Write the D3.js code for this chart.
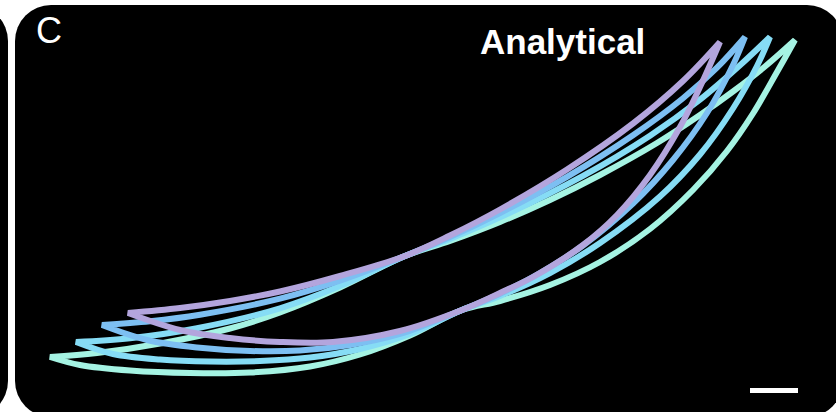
<!DOCTYPE html>
<html><head><meta charset="utf-8">
<script src="https://cdn.jsdelivr.net/npm/d3@7"></script>
<style>html,body{margin:0;padding:0;background:#fff;}svg{display:block;}</style>
</head><body>
<svg id="chart" width="836" height="412"></svg>
<script>
// Series: strain (x, %) and stress (y, %) of four hysteresis loops
const loopNames = ["loop1", "loop2", "loop3", "loop4"];
const loopColors = ["#b3a5dd", "#7dbff2", "#86dcf5", "#a5f3e3"];

const loop1UpperX = [12.25, 18.75, 25, 31.25, 38.75, 46.875, 52.5, 58.75, 67.125, 75.375, 81.625, 86.25];
const loop1UpperY = [16.75, 18, 19.75, 22.125, 26, 31, 36.125, 42.625, 52.625, 64.125, 74.75, 84.5];
const loop1LowerX = [12.25, 18.75, 25, 31.25, 37.875, 46.25, 54, 58.75, 62.875, 69.125, 73.375, 77.5, 81.25, 83.75, 86.25];
const loop1LowerY = [16.75, 12.5, 10.5, 9.5, 9.5, 12.25, 17.5, 21.75, 25.75, 33.75, 41.25, 51.25, 63.25, 73.25, 84.5];

const loop2UpperX = [9, 15, 21.25, 31.25, 38.75, 46.875, 52.5, 58.75, 67.125, 75.375, 81.625, 85.875, 89.375];
const loop2UpperY = [13.75, 14.7, 16.325, 20.325, 24.825, 31, 35.725, 41.725, 50.775, 61.175, 70.425, 78.075, 85.75];
const loop2LowerX = [9, 14.625, 20.875, 27.5, 33.75, 40, 46.25, 54, 58.75, 63.75, 69.125, 75.375, 80.375, 84.625, 87.875, 89.375];
const loop2LowerY = [13.75, 10, 8.125, 7.25, 7.375, 8.75, 11.5, 17.5, 21.575, 26.75, 33.625, 44.125, 55, 66.75, 78.75, 85.75];

const loop3UpperX = [5.75, 12.5, 20.875, 31.25, 38.75, 46.875, 52.5, 58.75, 69.125, 77.5, 83.75, 88.75, 92.5];
const loop3UpperY = [9.5, 10.45, 12.95, 17.925, 23.475, 31, 35.275, 40.65, 51.025, 61.075, 70.075, 78.675, 85.75];
const loop3LowerX = [5.75, 10.375, 16.25, 22.5, 28.75, 35, 41.25, 47.5, 54, 58.75, 65, 71.25, 78.75, 83.75, 87.875, 90.875, 92.5];
const loop3LowerY = [9.5, 6.5, 5.125, 4.625, 4.75, 5.625, 7.75, 11.5, 17.5, 21, 26.75, 34.25, 45.875, 56.375, 67.875, 78.5, 85.75];

const loop4UpperX = [2.5, 8.375, 16.625, 25, 31.25, 38.75, 46.875, 52.5, 58.75, 65, 71.25, 78.375, 83.75, 87.875, 91.875, 95.625];
const loop4UpperY = [5.75, 6.75, 9.25, 12.875, 16.875, 23.125, 31, 34.75, 39.5, 45, 51.25, 59.25, 66.25, 72.125, 78.375, 85];
const loop4LowerX = [2.5, 6.25, 12.5, 20, 27.5, 35, 41.25, 47.5, 54, 58.75, 65, 71.25, 77.5, 82.875, 87.125, 90.375, 93.375, 95.625];
const loop4LowerY = [5.75, 3.75, 2.375, 1.75, 1.875, 3.375, 6.375, 11.125, 17.5, 19.75, 23.75, 29.5, 37.75, 47.5, 57.25, 66.625, 77, 85];

const panelLabel = "C";
const panelTitle = "Analytical";
const scaleBarStart = 90;   // x units
const scaleBarLength = 6;   // x units
const scaleBarLevel = -2.6; // y units

const svg = d3.select("#chart");

const x = d3.scaleLinear().domain([0, 100]).range([30, 830]);
const y = d3.scaleLinear().domain([0, 90]).range([380, 20]);

// neighbouring panel sliver and main panel background
svg.append("rect").attr("x", -840).attr("y", 5).attr("width", 848).attr("height", 412)
  .attr("rx", 36).attr("fill", "#000");
svg.append("rect").attr("x", 15).attr("y", 5).attr("width", 828).attr("height", 412)
  .attr("rx", 36).attr("fill", "#000");

const loops = [
  {ux: loop1UpperX, uy: loop1UpperY, lx: loop1LowerX, ly: loop1LowerY},
  {ux: loop2UpperX, uy: loop2UpperY, lx: loop2LowerX, ly: loop2LowerY},
  {ux: loop3UpperX, uy: loop3UpperY, lx: loop3LowerX, ly: loop3LowerY},
  {ux: loop4UpperX, uy: loop4UpperY, lx: loop4LowerX, ly: loop4LowerY}
].map((d, i) => ({
  name: loopNames[i], color: loopColors[i],
  upper: d.ux.map((v, j) => [v, d.uy[j]]),
  lower: d.lx.map((v, j) => [v, d.ly[j]])
}));

const line = d3.line().x(d => x(d[0])).y(d => y(d[1])).curve(d3.curveCatmullRom.alpha(0.5));

function loopPath(l) {
  const d1 = line(l.upper);
  const d2 = line(l.lower.slice().reverse());
  const rest = d2.slice(d2.search(/[CLQ]/));
  return d1 + rest + "Z";
}

svg.append("g").selectAll("path")
  .data(loops.slice().reverse())
  .join("path")
  .attr("d", loopPath)
  .attr("fill", "none")
  .attr("stroke", d => d.color)
  .attr("stroke-width", 6)
  .attr("stroke-linejoin", "miter");

svg.append("text").attr("x", 36).attr("y", 43)
  .attr("font-family", "Liberation Sans, Arial, sans-serif").attr("font-size", 36)
  .attr("fill", "#fff").text(panelLabel);

svg.append("text").attr("x", 480).attr("y", 54)
  .attr("font-family", "Liberation Sans, Arial, sans-serif").attr("font-size", 35)
  .attr("font-weight", "bold").attr("fill", "#fff").text(panelTitle);

svg.append("line")
  .attr("x1", x(scaleBarStart)).attr("x2", x(scaleBarStart + scaleBarLength))
  .attr("y1", y(scaleBarLevel)).attr("y2", y(scaleBarLevel))
  .attr("stroke", "#fff").attr("stroke-width", 5);
</script>
</body></html>
